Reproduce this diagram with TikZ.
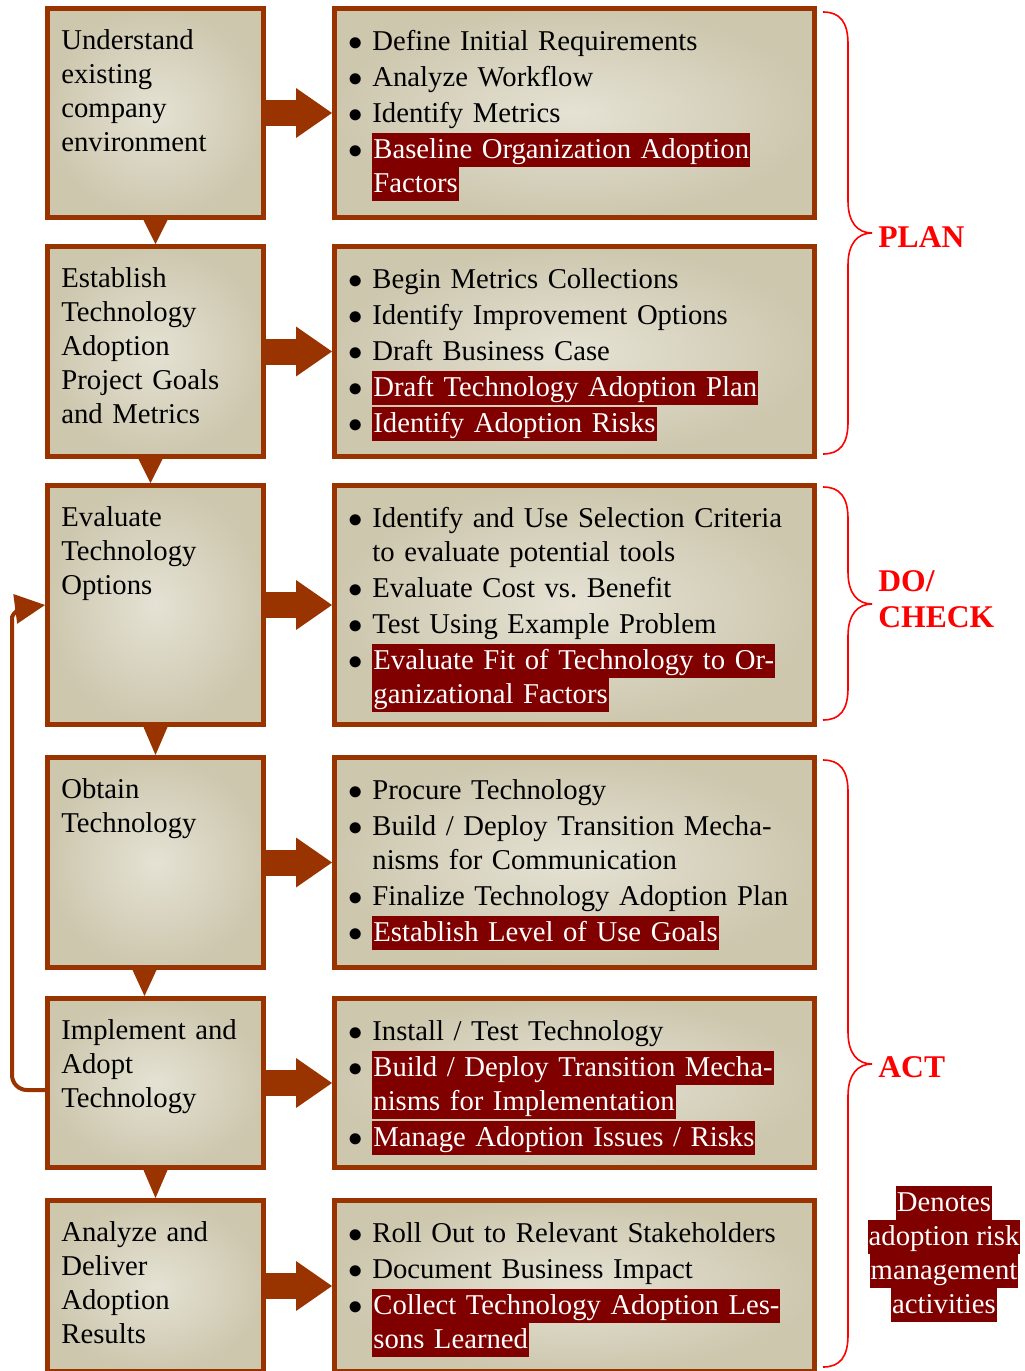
\documentclass[tikz,border=0pt]{standalone}
\usepackage{fontspec}
\setmainfont{Liberation Serif}
\usetikzlibrary{arrows.meta}
\definecolor{rust}{RGB}{153,51,0}
\definecolor{sand}{RGB}{205,199,174}
\definecolor{sandlight}{RGB}{229,226,212}
\definecolor{hlred}{RGB}{128,0,0}
\definecolor{plainred}{RGB}{255,0,0}
\tikzstyle{lbox}=[draw=rust, line width=2.5pt, inner color=sandlight, outer color=sand, minimum width=108pt, inner sep=0pt]
\tikzstyle{rbox}=[lbox, minimum width=240pt]
\tikzstyle{ltext}=[anchor=base west, inner sep=0pt, text width=100pt, align=left, font=\fontsize{14.35}{17}\selectfont]
\tikzstyle{rtext}=[ltext, text width=234pt]
\tikzstyle{flow}=[rust, line width=13pt, -{Triangle[length=18pt,width=25pt,line width=0pt]}]
\tikzstyle{drop}=[fill=rust]
\tikzstyle{fback}=[rust, line width=2pt, rounded corners=7.5pt, -{Triangle[length=15pt,width=15pt,line width=0pt]}]
\tikzstyle{brc}=[plainred, line width=0.8pt]
\tikzstyle{phase}=[anchor=base west, inner sep=0pt, text width=80pt, align=left, text=plainred, font=\fontsize{15.8}{18}\selectfont\bfseries]
\tikzstyle{legend}=[anchor=north, inner sep=0pt, align=center, font=\fontsize{14.35}{17}\selectfont]
\newcommand{\itm}{\makebox[12pt][l]{$\bullet$}}
\newcommand{\cnt}{\hspace*{12pt}}
\newcommand{\hl}[1]{{\fboxsep=0pt\colorbox{hlred}{\rule[-4.5pt]{0pt}{17pt}\kern0.5pt\textcolor{white}{#1}\kern0.5pt}}}
% one row: id, top, bottom, stage text, activities
\newcommand{\stage}[5]{
  \node[lbox, minimum height={(#3-#2-5)*0.5pt}] (l#1) at (155.5,{(#2+#3)/2}) {};
  \node[rbox, minimum height={(#3-#2-5)*0.5pt}] (r#1) at (574.5,{(#2+#3)/2}) {};
  \node[ltext] (lt#1) at (61,#2+43) {#4};
  \node[rtext] (rt#1) at (348,#2+44) {#5};
  \draw[flow] (l#1.east) -- (r#1.west)
}
\newcommand{\drp}[3]{\fill[drop] ([xshift={#3pt-6pt}]l#1.south) -- ([xshift={#3pt+6pt}]l#1.south) -- ([xshift=#3pt]l#2.north) -- cycle}
\newcommand{\brc}[3]{
  \draw[brc] (823,#1) .. controls (840,#1) and (848,#1+10) .. (848,#1+32)
    -- (848,#3-32) .. controls (848,#3-10) and (858,#3) .. (872,#3)
    .. controls (858,#3) and (848,#3+10) .. (848,#3+32)
    -- (848,#2-32) .. controls (848,#2-10) and (840,#2) .. (823,#2)
}
\begin{document}
\begin{tikzpicture}[x=0.5pt,y=-0.5pt]
  \useasboundingbox (0,0) rectangle (1024,1371);
  \stage{1}{6}{220}{Understand\\existing\\company\\environment}
    {\itm Define Initial Requirements\\[1pt]
     \itm Analyze Workflow\\[1pt]
     \itm Identify Metrics\\[1pt]
     \itm\hl{Baseline Organization Adoption}\\
     \cnt\hl{Factors}};
  \stage{2}{244}{459}{Establish\\Technology\\Adoption\\Project Goals\\and Metrics}
    {\itm Begin Metrics Collections\\[1pt]
     \itm Identify Improvement Options\\[1pt]
     \itm Draft Business Case\\[1pt]
     \itm\hl{Draft Technology Adoption Plan}\\[1pt]
     \itm\hl{Identify Adoption Risks}};
  \stage{3}{483}{727}{Evaluate\\Technology\\Options}
    {\itm Identify and Use Selection Criteria\\
     \cnt to evaluate potential tools\\[1pt]
     \itm Evaluate Cost vs.\ Benefit\\[1pt]
     \itm Test Using Example Problem\\[1pt]
     \itm\hl{Evaluate Fit of Technology to Or-}\\
     \cnt\hl{ganizational Factors}};
  \stage{4}{755}{970}{Obtain\\Technology}
    {\itm Procure Technology\\[1pt]
     \itm Build / Deploy Transition Mecha-\\
     \cnt nisms for Communication\\[1pt]
     \itm Finalize Technology Adoption Plan\\[1pt]
     \itm\hl{Establish Level of Use Goals}};
  \stage{5}{996}{1170}{Implement and\\Adopt\\Technology}
    {\itm Install / Test Technology\\[1pt]
     \itm\hl{Build / Deploy Transition Mecha-}\\
     \cnt\hl{nisms for Implementation}\\[1pt]
     \itm\hl{Manage Adoption Issues / Risks}};
  \stage{6}{1198}{1374}{Analyze and\\Deliver\\Adoption\\Results}
    {\itm Roll Out to Relevant Stakeholders\\[1pt]
     \itm Document Business Impact\\[1pt]
     \itm\hl{Collect Technology Adoption Les-}\\
     \cnt\hl{sons Learned}};
  \drp{1}{2}{0};
  \drp{2}{3}{-2.5};
  \drp{3}{4}{0};
  \drp{4}{5}{-5.5};
  \drp{5}{6}{0};
  % back to evaluation
  \draw[fback] ([yshift=-3.5pt]l5.west) -| (12,632) .. controls (12,614) and (22,608) .. (l3.west);
  % phases
  \brc{12}{454}{233};
  \brc{487}{720}{604};
  \brc{760}{1367}{1064};
  \node[phase] (plan) at (878,247) {PLAN};
  \node[phase] (docheck) at (878,591) {DO/\\CHECK};
  \node[phase] (act) at (878,1077) {ACT};
  \node[legend] (key) at (944,1186) {\hl{Denotes}\\\hl{adoption risk}\\\hl{management}\\\hl{activities}};
\end{tikzpicture}
\end{document}
